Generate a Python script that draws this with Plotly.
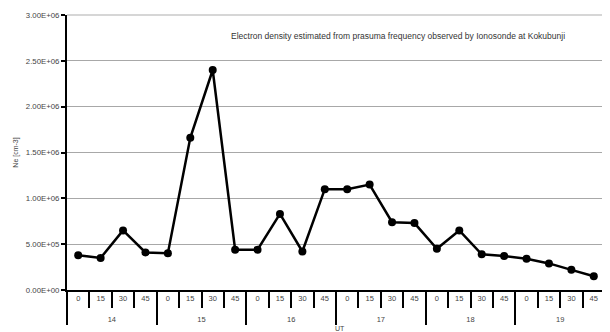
import plotly.graph_objects as go

hours = ["14", "15", "16", "17", "18", "19"]
minutes = ["0", "15", "30", "45"]
ne_values = [3.8e5, 3.5e5, 6.5e5, 4.1e5,
             4.0e5, 1.66e6, 2.40e6, 4.4e5,
             4.4e5, 8.3e5, 4.2e5, 1.10e6,
             1.10e6, 1.15e6, 7.4e5, 7.3e5,
             4.5e5, 6.5e5, 3.9e5, 3.7e5,
             3.4e5, 2.9e5, 2.2e5, 1.5e5]
y_tickvals = [0, 5e5, 1e6, 1.5e6, 2e6, 2.5e6, 3e6]
y_ticktext = ["0.00E+00", "5.00E+05", "1.00E+06", "1.50E+06", "2.00E+06", "2.50E+06", "3.00E+06"]

# outer (hour) labels get a leading blank line so they sit lower, as in the reference
x_outer = ["<br>" + h for h in hours for m in minutes]
x_inner = [m for h in hours for m in minutes]

fig = go.Figure()
fig.add_trace(go.Scatter(
    x=[x_outer, x_inner], y=ne_values, mode="lines+markers",
    line=dict(color="black", width=2.5),
    marker=dict(color="black", size=8),
    showlegend=False,
))

fig.update_layout(
    width=602, height=324,
    margin=dict(l=59, r=5, t=7, b=42),
    paper_bgcolor="white", plot_bgcolor="white",
    font=dict(family="Liberation Sans, Arial, sans-serif", size=7, color="#444"),
    xaxis=dict(
        type="multicategory", automargin=False,
        range=[-0.5, len(ne_values) - 0.5],
        showline=True, linecolor="black", linewidth=2,
        ticks="outside", ticklen=16, tickwidth=2, tickcolor="black",
        showdividers=True, dividercolor="black", dividerwidth=2,
        showgrid=False, mirror=False,
        tickfont=dict(size=7.5, color="#444"),
    ),
    yaxis=dict(
        range=[0, 3e6], tickvals=y_tickvals, ticktext=y_ticktext, automargin=False,
        showline=True, linecolor="black", linewidth=2,
        ticks="outside", ticklen=4, tickwidth=2, tickcolor="black",
        showgrid=True, gridcolor="#a8a8a8", gridwidth=1,
        zeroline=False,
        title=dict(text="Ne [cm-3]", font=dict(size=7, color="#444"), standoff=6),
        tickfont=dict(size=7.8, color="#444"),
    ),
    shapes=[
        dict(type="line", xref="paper", yref="paper", x0=1, x1=1, y0=0, y1=1,
             line=dict(color="#c8c8c8", width=1.5)),
        dict(type="line", xref="paper", yref="paper", x0=0, x1=1, y0=1, y1=1,
             line=dict(color="#c8c8c8", width=1.5)),
    ],
    annotations=[
        dict(text="Electron density estimated from prasuma frequency observed by Ionosonde at Kokubunji",
             xref="paper", yref="paper", x=0.615, y=0.95, showarrow=False,
             font=dict(size=8.5, color="#333")),
        dict(text="UT", xref="paper", yref="paper", x=0.507, y=0, yshift=-44,
             showarrow=False, font=dict(size=7, color="#444")),
    ],
)

fig.write_html("out.html")
